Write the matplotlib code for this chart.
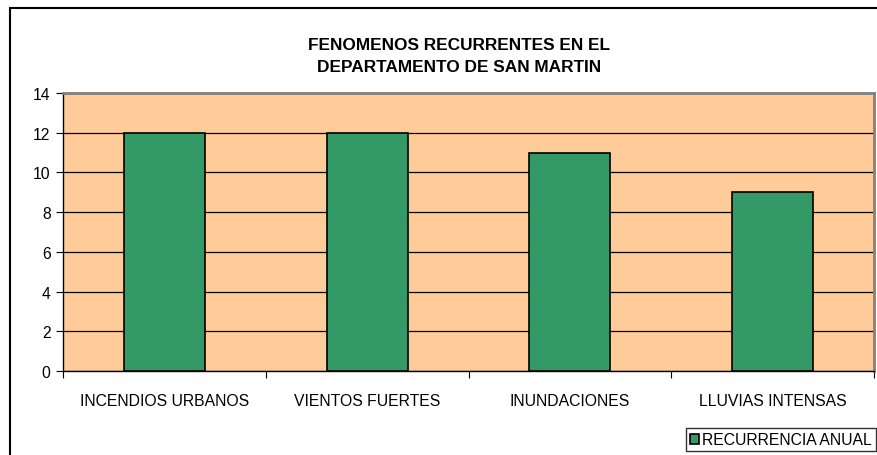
import matplotlib

matplotlib.use("Agg")
import matplotlib.pyplot as plt
from matplotlib.patches import Rectangle

categories = ["INCENDIOS URBANOS", "VIENTOS FUERTES", "INUNDACIONES", "LLUVIAS INTENSAS"]
recurrencia = [12, 12, 11, 9]
series_name = "RECURRENCIA ANUAL"
title = "FENOMENOS RECURRENTES EN EL\nDEPARTAMENTO DE SAN MARTIN"

W, H = 877, 456
plt.rcParams["font.family"] = ["Liberation Sans", "DejaVu Sans"]

fig = plt.figure(figsize=(W / 100, H / 100), dpi=100)
fig.patch.set_facecolor("white")

# outer chart frame (runs off the right and bottom edges)
fig.add_artist(Rectangle((10 / W, -0.05), 1.0, 1 - 9 / H + 0.05, transform=fig.transFigure,
                         fill=False, edgecolor="black", lw=1.5, zorder=0))

ax = fig.add_axes([63 / W, 1 - 372 / H, (874 - 63) / W, (372 - 94) / H])
ax.set_facecolor("#FFCC99")

x = range(len(categories))
ax.bar(x, recurrencia, width=0.4, color="#339966", edgecolor="black", lw=1.2,
       zorder=3, label=series_name)

ax.set_xlim(-0.5, len(categories) - 0.5)
ax.set_ylim(0, 14)
ax.set_yticks(range(0, 15, 2))
ax.yaxis.grid(True, color="black", lw=0.9, zorder=1)
ax.set_axisbelow(True)

# ticks sit between categories, labels centred under the bars
ax.set_xticks([i - 0.5 for i in range(len(categories) + 1)], minor=False)
ax.set_xticklabels([])
ax.set_xticks(list(x), minor=True)
ax.set_xticklabels(categories, minor=True)
ax.tick_params(axis="x", which="minor", length=0, pad=16, labelsize=11.3)
ax.tick_params(axis="x", which="major", length=5, direction="out")
ax.tick_params(axis="y", length=5, direction="out", labelsize=11.3, pad=4)

for side in ("top", "right"):
    ax.spines[side].set_color("#808080")
    ax.spines[side].set_linewidth(2)
for side in ("left", "bottom"):
    ax.spines[side].set_color("black")
    ax.spines[side].set_linewidth(1)

fig.text(459 / W, 1 - 56.5 / H, title, ha="center", va="center", fontsize=12.4,
         fontweight="bold", linespacing=1.6)

leg = fig.legend(loc="lower left", bbox_to_anchor=(686 / W, 4 / H), frameon=True,
                 fontsize=11.3, handlelength=0.6, handleheight=0.6, handletextpad=0.2,
                 borderpad=0.25, borderaxespad=0, fancybox=False)
leg.get_frame().set_edgecolor("black")
leg.get_frame().set_linewidth(1)

fig.savefig("out.png", dpi=100)
